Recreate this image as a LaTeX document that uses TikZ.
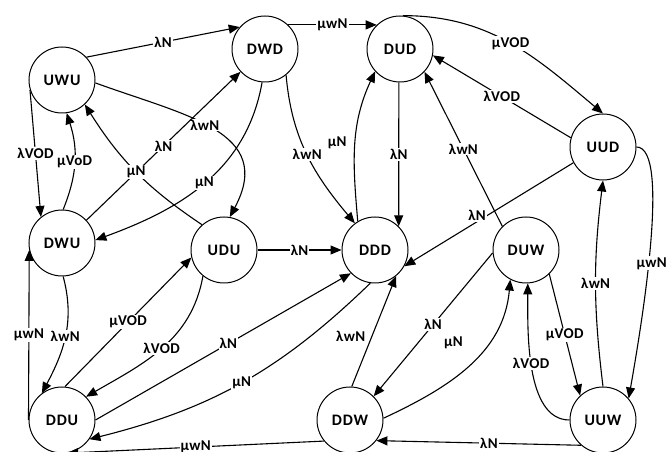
\documentclass[tikz,border=0pt]{standalone}
\usepackage{fontspec}
\setmainfont{Carlito}
\usetikzlibrary{arrows.meta}
\begin{document}
\begin{tikzpicture}[x=1pt,y=1pt,
  state/.style={circle, draw, line width=1pt, minimum size=66pt, inner sep=0pt,
    font=\fontsize{16}{16}\selectfont\bfseries\addfontfeatures{LetterSpace=5}},
  conn/.style={line width=1.1pt, -{Triangle[length=11pt,width=9pt]}},
  lab/.style={fill=white, inner sep=1pt,
    font=\fontsize{15}{15}\selectfont\bfseries\addfontfeatures{LetterSpace=2}}]
\useasboundingbox (0,0) rectangle (667,452);
\clip (0,0) rectangle (667,452);

% states
\node[state] (UWU) at (62,372) {UWU};
\node[state] (DWD) at (265,403) {DWD};
\node[state] (DUD) at (400,403) {DUD};
\node[state] (UUD) at (603,305) {UUD};
\node[state] (DWU) at (62,209) {DWU};
\node[state] (UDU) at (224,202) {UDU};
\node[state] (DDD) at (375,202) {DDD};
\node[state] (DUW) at (526,202) {DUW};
\node[state] (DDU) at (62,32) {DDU};
\node[state] (DDW) at (350,32) {DDW};
\node[state] (UUW) at (603,32) {UUW};

% transitions
\draw[conn] (UWU.43) -- node[lab] {λN} (DWD.139);
\draw[conn] (DWD.46) -- node[lab] {μwN} (DUD.134);
\draw[conn] (DUD.85) to[out=0,in=140] node[lab] {μVOD} (UUD.90);
\draw[conn] (UUD.164) -- node[lab] {λVOD} (DUD.-11);
\draw[conn] (DWD.-51) to[out=-85,in=130] node[lab] {λwN} (DDD.127);
\draw[conn] (DDD.121) to[out=95,in=245] node[lab,pos=0.5,xshift=-18pt,yshift=2pt] {μN} (DUD.222);
\draw[conn] (DUD.268) -- node[lab] {λN} (DDD.45);
\draw[conn] (DUW.135) -- node[lab] {λwN} (DUD.-43);
\draw[conn] (UUD.208) -- node[lab,pos=0.57,yshift=6pt] {λN} (DDD.-29);
\draw[conn] (DUW.185) -- node[lab] {λN} (DDW.45);
\draw[conn] (DDW.3) to[out=25,in=-95] node[lab,pos=0.5,xshift=-16pt,yshift=22pt] {μN} (DUW.242);
\draw[conn] (DUW.-46) -- node[lab] {μVOD} (UUW.133);
\draw[conn] (UUW.180) to[out=180,in=-90,looseness=0.8] node[lab,pos=0.53] {λVOD} (DUW.-87);
\draw[conn] (UUW.90) to[bend left=7] node[lab] {λwN} (UUD.-90);
\draw[conn] (UUD.0) to[out=0,in=80,out distance=35pt,in distance=70pt] node[lab,pos=0.55,xshift=3pt] {μwN} (UUW.40);
\draw[conn] (DDW.87) -- node[lab,pos=0.45,anchor=east,xshift=-5pt] {λwN} (DDD.-51);
\draw[conn] (UUW.229) -- node[lab,pos=0.45] {λN} (DDW.-38);
\draw[conn] (DDW.219) -- node[lab] {μwN} (DDU.-81);
\draw[conn] (DDU.180) -- node[lab] {μwN} (DWU.192);
\draw[conn] (DWU.-88) to[out=-75,in=62] node[lab] {λwN} (DDU.127);
\draw[conn] (DDU.85) -- node[lab] {μVOD} (UDU.193);
\draw[conn] (UDU.231) to[out=-100,in=30] node[lab] {λVOD} (DDU.44);
\draw[conn] (DDU.0) -- node[lab,pos=0.52] {λN} (DDD.224);
\draw[conn] (DDD.262) to[bend left=15] node[lab] {μN} (DDU.-35);
\draw[conn] (UDU.0) -- node[lab] {λN} (DDD.180);
\draw[conn] (DWD.-95) to[out=-100,in=20] node[lab] {μN} (DWU.5);
\draw[conn] (UWU.-5) to[out=-20,in=62,looseness=1.3] node[lab,pos=0.45] {λwN} (UDU.80);
\draw[conn] (DWU.43) -- node[lab] {λN} (DWD.223);
\draw[conn] (DWU.88) to[bend right=20] node[lab] {μVoD} (UWU.-82);
\draw[conn] (UWU.197) -- node[lab] {λVOD} (DWU.129);
\draw[conn] (UDU.131) to[bend left=12] node[lab] {μN} (UWU.-47);
\end{tikzpicture}
\end{document}
